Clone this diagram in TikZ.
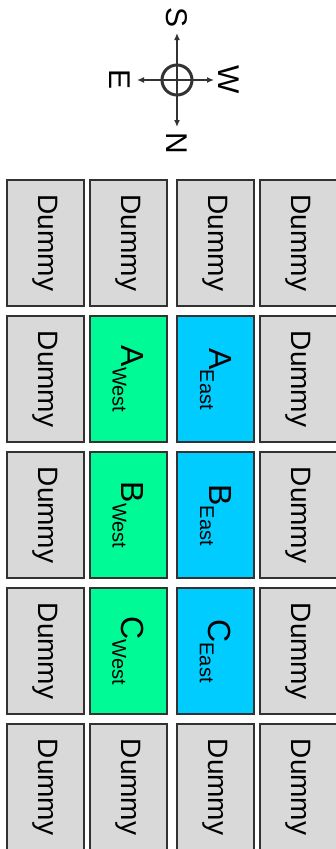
\documentclass[tikz,border=0pt]{standalone}
\usepackage{fontspec}
\setmainfont{Liberation Sans}
\definecolor{tilegray}{RGB}{217,217,217}
\definecolor{tilegreen}{RGB}{0,250,150}
\definecolor{tileblue}{RGB}{0,204,255}
\definecolor{tileline}{RGB}{50,50,50}
\usetikzlibrary{arrows.meta}
\tikzset{
    tile/.style={
           rectangle,
           draw=tileline, line width=2pt,
           minimum width=126pt, minimum height=77pt,
           inner sep=0pt,
           rotate=-90,
           text centered,
           },
    dummy/.style={tile, fill=tilegray},
    west/.style={tile, fill=tilegreen},
    east/.style={tile, fill=tileblue},
    compass/.style={rotate=-90, inner sep=0pt, font=\fontsize{30}{30}\selectfont},
}
\newcommand{\lbl}[2]{{\fontsize{32}{32}\selectfont #1}\raisebox{-9pt}{\fontsize{20}{20}\selectfont #2}}
\newcommand{\Dmy}{{\fontsize{28}{28}\selectfont Dummy}}
\newcommand{\AWest}{\lbl{A}{West}}
\newcommand{\BWest}{\lbl{B}{West}}
\newcommand{\CWest}{\lbl{C}{West}}
\newcommand{\AEast}{\lbl{A}{East}}
\newcommand{\BEast}{\lbl{B}{East}}
\newcommand{\CEast}{\lbl{C}{East}}
\begin{document}
\begin{tikzpicture}[x=1pt, y=1pt, >={Latex[length=7pt,width=6pt]}]
      \path[use as bounding box, clip] (0,0) rectangle (336,-849);
      % compass
      \node[circle, draw=tileline, line width=3pt, minimum size=30pt, inner sep=0pt] (hub) at (177,-80) {};
      \coordinate (tipS) at (177,-33);
      \coordinate (tipN) at (177,-127);
      \coordinate (tipE) at (137,-80);
      \coordinate (tipW) at (214,-80);
      \draw[->, line width=1.5pt, tileline] (hub.center) -- (tipS);
      \draw[->, line width=1.5pt, tileline] (hub.center) -- (tipN);
      \draw[->, line width=1.5pt, tileline] (hub.center) -- (tipE);
      \draw[->, line width=1.5pt, tileline] (hub.center) -- (tipW);
      \node[compass] (S) at (177,-18)  {S};
      \node[compass] (N) at (177,-143) {N};
      \node[compass] (E) at (120,-80)  {E};
      \node[compass] (W) at (229,-80)  {W};
      % row 1
      \node[dummy] (D11) at ( 45,  -243) {\Dmy};
      \node[dummy] (D12) at (128,  -243) {\Dmy};
      \node[dummy] (D13) at (215.5,-243) {\Dmy};
      \node[dummy] (D14) at (298.5,-243) {\Dmy};
      % rows 2-4
      \node[dummy] (D21) at ( 45,  -379) {\Dmy};
      \node[west]  (AW)  at (128,  -379) {\AWest};
      \node[east]  (AE)  at (215.5,-379) {\AEast};
      \node[dummy] (D24) at (298.5,-379) {\Dmy};
      \node[dummy] (D31) at ( 45,  -515) {\Dmy};
      \node[west]  (BW)  at (128,  -515) {\BWest};
      \node[east]  (BE)  at (215.5,-515) {\BEast};
      \node[dummy] (D34) at (298.5,-515) {\Dmy};
      \node[dummy] (D41) at ( 45,  -651) {\Dmy};
      \node[west]  (CW)  at (128,  -651) {\CWest};
      \node[east]  (CE)  at (215.5,-651) {\CEast};
      \node[dummy] (D44) at (298.5,-651) {\Dmy};
      % row 5
      \node[dummy] (D51) at ( 45,  -787) {\Dmy};
      \node[dummy] (D52) at (128,  -787) {\Dmy};
      \node[dummy] (D53) at (215.5,-787) {\Dmy};
      \node[dummy] (D54) at (298.5,-787) {\Dmy};
\end{tikzpicture}
\end{document}
